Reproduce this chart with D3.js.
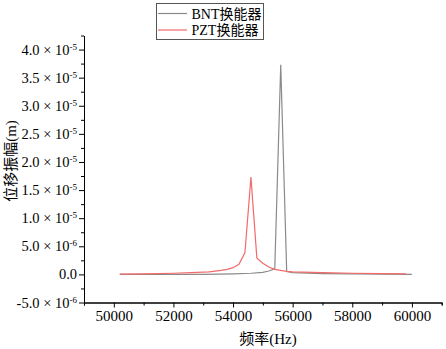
<!DOCTYPE html>
<html>
<head>
<meta charset="utf-8">
<script src="https://cdn.jsdelivr.net/npm/d3@7"></script>
<style>
  body { margin: 0; background: #fff; }
  svg text { font-family: "Liberation Serif", "Noto Sans CJK SC", serif; fill: #000; }
</style>
</head>
<body>
<svg id="chart" width="446" height="349"></svg>
<script>
// Datos (frecuencia en Hz, amplitud en m)
const bntFreq = [50200, 51000, 52000, 53000, 54000, 54600, 55000, 55200, 55400, 55600, 55800, 56000, 57000, 58000, 59000, 60000];
const bntAmp  = [0, 0, 0, 0.02e-6, 0.1e-6, 0.2e-6, 0.35e-6, 0.6e-6, 1.0e-6, 37.3e-6, 0.5e-6, 0.3e-6, 0.15e-6, 0.1e-6, 0.05e-6, 0];

const pztFreq = [50200, 51000, 52000, 52600, 53200, 53600, 53800, 54000, 54200, 54400, 54600, 54800, 55000, 55200, 55400, 55600, 55800, 56000, 57000, 58000, 59000, 59800];
const pztAmp  = [0.05e-6, 0.1e-6, 0.2e-6, 0.3e-6, 0.45e-6, 0.7e-6, 0.9e-6, 1.2e-6, 1.8e-6, 3.9e-6, 17.3e-6, 2.9e-6, 2.0e-6, 1.3e-6, 0.9e-6, 0.7e-6, 0.55e-6, 0.45e-6, 0.3e-6, 0.2e-6, 0.15e-6, 0.1e-6];

const xMajor = [50000, 52000, 54000, 56000, 58000, 60000];
const xMinor = [49000, 51000, 53000, 55000, 57000, 59000, 61000];
const yMajor = [-5e-6, 0, 5e-6, 1e-5, 1.5e-5, 2e-5, 2.5e-5, 3e-5, 3.5e-5, 4e-5];
const yLabels = [["-5.0", "-6"], ["0.0", null], ["5.0", "-6"], ["1.0", "-5"], ["1.5", "-5"], ["2.0", "-5"], ["2.5", "-5"], ["3.0", "-5"], ["3.5", "-5"], ["4.0", "-5"]];
const yMinor = [-2.5e-6, 2.5e-6, 7.5e-6, 1.25e-5, 1.75e-5, 2.25e-5, 2.75e-5, 3.25e-5, 3.75e-5, 4.25e-5];

const series = [
  { name: "BNT换能器", freq: bntFreq, amp: bntAmp, color: "#8a8a8a" },
  { name: "PZT换能器", freq: pztFreq, amp: pztAmp, color: "#f26a6a" }
];

const svg = d3.select("#chart");
const plotL = 84, plotR = 441.7, plotT = 35.5, plotB = 302.5;

// Escalas
const x = d3.scaleLinear().domain([49000, 61000]).range([plotL, plotR]);
const y = d3.scaleLinear().domain([-5e-6, 4.25e-5]).range([plotB, plotT]);

// Eje X
const gx = svg.append("g").attr("transform", `translate(0,${plotB})`);
gx.call(d3.axisBottom(x).tickValues(xMinor).tickSize(3).tickFormat(""));
gx.call(g => g.append("g").call(d3.axisBottom(x).tickValues(xMajor).tickSize(5).tickSizeOuter(0).tickFormat(d3.format("d"))));
gx.selectAll("path.domain").attr("stroke", "#000");
gx.selectAll("text").style("font-size", "15px");
gx.selectAll(".tick line").attr("stroke", "#000");

// Eje Y
const gy = svg.append("g").attr("transform", `translate(${plotL},0)`);
gy.call(d3.axisLeft(y).tickValues(yMinor).tickSize(3).tickSizeOuter(0).tickFormat(""));
gy.call(g => g.append("g").call(d3.axisLeft(y).tickValues(yMajor).tickSize(5).tickSizeOuter(0).tickFormat("")));
gy.selectAll(".tick line").attr("stroke", "#000");
gy.selectAll("path.domain").attr("stroke", "#000");

// Etiquetas Y con exponente
yMajor.forEach((v, i) => {
  const [m, e] = yLabels[i];
  const t = svg.append("text")
    .attr("x", plotL - 7)
    .attr("y", y(v) + 5)
    .attr("text-anchor", "end")
    .style("font-size", "14.5px");
  t.append("tspan").text(e ? m + " × 10" : m);
  if (e) t.append("tspan").attr("dy", -5).style("font-size", "9px").text(e);
});

// Líneas
const line = d3.line().x(d => x(d[0])).y(d => y(d[1]));
series.forEach(s => {
  svg.append("path")
    .datum(s.freq.map((f, i) => [f, s.amp[i]]))
    .attr("fill", "none")
    .attr("stroke", s.color)
    .attr("stroke-width", 1.2)
    .attr("d", line);
});

// Títulos
svg.append("text")
  .attr("x", 268).attr("y", 344)
  .attr("text-anchor", "middle")
  .style("font-size", "15px")
  .text("频率(Hz)");

svg.append("text")
  .attr("transform", "translate(16,161) rotate(-90)")
  .attr("text-anchor", "middle")
  .style("font-size", "15px")
  .text("位移振幅(m)");

// Leyenda
const lg = svg.append("g");
lg.append("rect")
  .attr("x", 156.5).attr("y", 3.5).attr("width", 107).attr("height", 36)
  .attr("fill", "#fff").attr("stroke", "#555").attr("stroke-width", 1);
series.forEach((s, i) => {
  const ly = 13.5 + i * 16.5;
  lg.append("line")
    .attr("x1", 158).attr("x2", 187).attr("y1", ly).attr("y2", ly)
    .attr("stroke", s.color).attr("stroke-width", 1.2);
  lg.append("text")
    .attr("x", 191.5).attr("y", ly + 5)
    .style("font-size", "14px")
    .text(s.name);
});
</script>
</body>
</html>
